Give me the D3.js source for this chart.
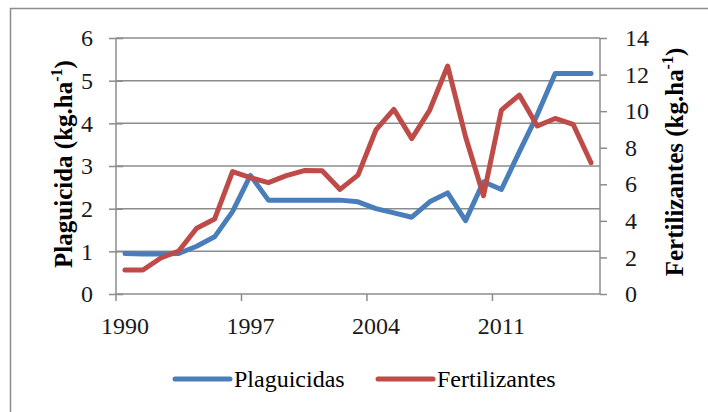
<!DOCTYPE html>
<html>
<head>
<meta charset="utf-8">
<script src="https://cdn.jsdelivr.net/npm/d3@7"></script>
<style>
  body { margin: 0; background: #fff; }
  svg text { font-family: 'Liberation Serif', 'Times New Roman', 'DejaVu Serif', serif !important; }
</style>
</head>
<body>
<div id="graphic"></div>
<script>
// Chart values
var years = d3.range(1990, 2017);
var plaguicidas = [0.95, 0.94, 0.94, 0.95, 1.12, 1.34, 1.93, 2.78, 2.2, 2.2, 2.2, 2.2, 2.2, 2.16,
                   2.0, 1.9, 1.8, 2.16, 2.37, 1.72, 2.63, 2.45, 3.33, 4.2, 5.17, 5.17, 5.17];
var fertilizantes = [1.31, 1.31, 1.97, 2.35, 3.6, 4.1, 6.69, 6.36, 6.09, 6.47, 6.75, 6.74, 5.72, 6.5,
                     8.97, 10.1, 8.5, 10.06, 12.47, 8.6, 5.37, 10.06, 10.88, 9.19, 9.6, 9.28, 7.18];
var leftTicks = [0, 1, 2, 3, 4, 5, 6];
var rightTicks = [0, 2, 4, 6, 8, 10, 12, 14];
var xLabels = [1990, 1997, 2004, 2011];
var seriesNames = ['Plaguicidas', 'Fertilizantes'];
var seriesColors = ['#4a7ebb', '#be4b48'];

var W = 708, H = 412;
var margin = {top: 38, right: 108, bottom: 118, left: 116},
    width = W - margin.left - margin.right,
    height = H - margin.top - margin.bottom;

var svg = d3.select('#graphic').append('svg')
    .attr('width', W)
    .attr('height', H);

// outer frame
svg.append('rect')
    .attr('x', 10.5).attr('y', 8.5)
    .attr('width', 720).attr('height', 420)
    .attr('fill', 'none')
    .attr('stroke', '#8c8c8c')
    .attr('stroke-width', 1.5);

var g = svg.append('g')
    .attr('transform', 'translate(' + margin.left + ',' + margin.top + ')');

// category scale, points centred in their band
var x = d3.scaleBand().domain(years).range([0, width]);
var xc = function(d) { return x(d) + x.bandwidth() / 2; };
var yL = d3.scaleLinear().domain([0, 6]).range([height, 0]);
var yR = d3.scaleLinear().domain([0, 14]).range([height, 0]);

// horizontal gridlines
g.append('g').selectAll('line')
    .data(leftTicks.slice(1))
    .enter().append('line')
    .attr('x1', 0).attr('x2', width)
    .attr('y1', function(d) { return yL(d); })
    .attr('y2', function(d) { return yL(d); })
    .attr('stroke', '#8c8c8c')
    .attr('stroke-width', 1.5);

// left axis
var axL = g.append('g')
    .call(d3.axisLeft(yL).tickValues(leftTicks).tickFormat(d3.format('d')).tickSize(7).tickPadding(16));
axL.selectAll('.tick line').attr('x2', 7).attr('x1', -7);
// right axis
var axR = g.append('g')
    .attr('transform', 'translate(' + width + ',0)')
    .call(d3.axisRight(yR).tickValues(rightTicks).tickFormat(d3.format('d')).tickSize(7).tickPadding(18));
// bottom axis, ticks on category boundaries every 7 years
var axB = g.append('g')
    .attr('transform', 'translate(0,' + height + ')')
    .call(d3.axisBottom(x).tickValues(xLabels).tickSize(0).tickPadding(23));
axB.selectAll('.tick line').remove();
axB.selectAll('.tick')
    .append('line')
    .attr('x1', -x.bandwidth() / 2).attr('x2', -x.bandwidth() / 2)
    .attr('y1', 0).attr('y2', 7);

[axL, axR, axB].forEach(function(a) {
  a.attr('font-family', null).attr('font-size', null);
  a.select('.domain').attr('stroke', '#8c8c8c').attr('stroke-width', 1.5);
  a.selectAll('.tick line').attr('stroke', '#8c8c8c').attr('stroke-width', 1.5);
  a.selectAll('text').style('font-size', '24px').attr('fill', '#1a1a1a');
});
axL.select('.domain').attr('d', 'M0,0V' + height);
axR.select('.domain').attr('d', 'M0,0V' + height);
axB.select('.domain').attr('d', 'M0,0H' + width);

// lines
var lineL = d3.line().x(function(d, i) { return xc(years[i]); }).y(function(d) { return yL(d); });
var lineR = d3.line().x(function(d, i) { return xc(years[i]); }).y(function(d) { return yR(d); });

g.append('path').datum(plaguicidas)
    .attr('fill', 'none').attr('stroke', seriesColors[0])
    .attr('stroke-width', 5).attr('stroke-linejoin', 'round').attr('stroke-linecap', 'round')
    .attr('d', lineL);
g.append('path').datum(fertilizantes)
    .attr('fill', 'none').attr('stroke', seriesColors[1])
    .attr('stroke-width', 5).attr('stroke-linejoin', 'round').attr('stroke-linecap', 'round')
    .attr('d', lineR);

// axis titles
function axisTitle(cx, cy, label) {
  var t = svg.append('text')
      .attr('transform', 'translate(' + cx + ',' + cy + ') rotate(-90)')
      .attr('text-anchor', 'middle')
      .style('font-size', '25px').style('font-weight', 'bold');
  t.append('tspan').text(label + ' (kg.ha');
  t.append('tspan').attr('dy', -10).style('font-size', '16px').text('-1');
  t.append('tspan').attr('dy', 10).text(')');
}
axisTitle(72, 164, 'Plaguicida');
axisTitle(683, 162, 'Fertilizantes');

// legend
var legX = [175, 378];
seriesNames.forEach(function(name, i) {
  svg.append('line')
      .attr('x1', legX[i]).attr('x2', legX[i] + 55)
      .attr('y1', 379).attr('y2', 379)
      .attr('stroke', seriesColors[i]).attr('stroke-width', 5)
      .attr('stroke-linecap', 'round');
  svg.append('text')
      .attr('x', legX[i] + 59).attr('y', 387)
      .style('font-size', '24px')
      .text(name);
});
</script>
</body>
</html>
